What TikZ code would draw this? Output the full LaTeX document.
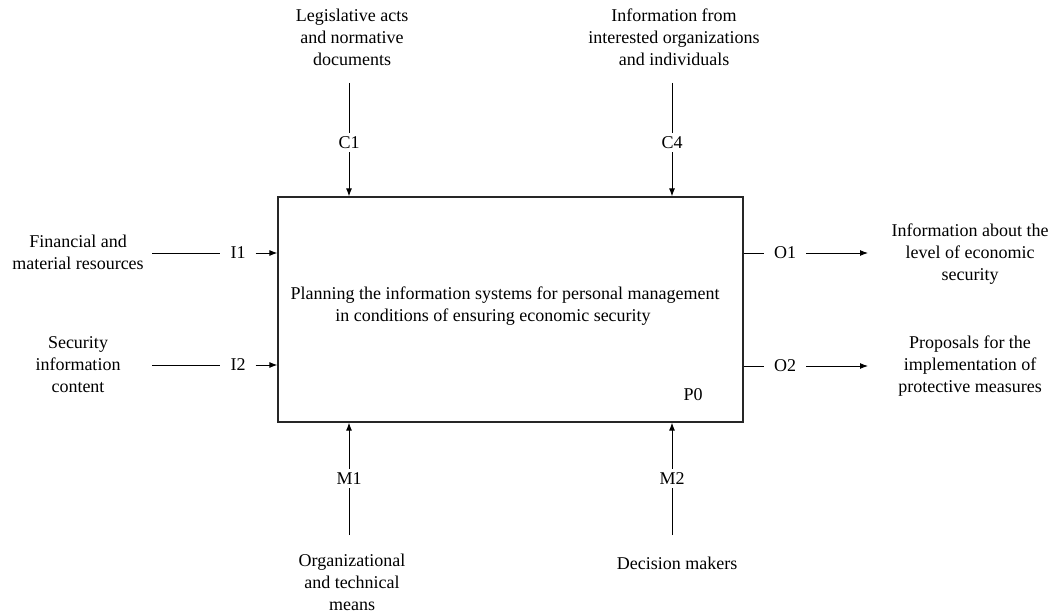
\documentclass[tikz,border=0pt]{standalone}
\usepackage{fontspec}
\setmainfont{Liberation Serif}
\usetikzlibrary{arrows.meta}
\begin{document}
\begin{tikzpicture}[x=1pt,y=-1pt,
  txt/.style={align=center,inner sep=0pt,font=\fontsize{18}{22}\selectfont},
  lab/.style={inner xsep=10pt,inner ysep=3.5pt,text depth=0pt,font=\fontsize{18}{22}\selectfont},
  conn/.style={line width=1pt},
  arr/.style={line width=1pt,-{Latex[length=8pt,width=6pt]}},
  boxstyle/.style={draw=black!85,line width=1.2pt,minimum width=465pt,minimum height=225pt,inner sep=0pt}]
\useasboundingbox (0,0) rectangle (1054,615);
% main box
\node[boxstyle] (box) at (510.5,309.5) {};
\node[txt] (title) at (505,306.5) {Planning the information systems for personal management\\in conditions of ensuring economic security\hspace*{24pt}};
\node[txt] (p0) at (693,395) {P0};
% texts
\node[txt] (legis) at (352,37.5) {Legislative acts\\and normative\\documents};
\node[txt] (infofrom) at (674,37.5) {Information from\\interested organizations\\and individuals};
\node[txt] (fin) at (78,252.5) {Financial and\\material resources};
\node[txt] (sec) at (78,365) {Security\\information\\content};
\node[txt] (infoabout) at (970,254) {Information about the\\level of economic\\security};
\node[txt] (prop) at (970,366) {Proposals for the\\implementation of\\protective measures};
\node[txt] (org) at (352,582.5) {Organizational\\and technical\\means};
\node[txt] (dec) at (677,563) {Decision makers};
% labels
\node[lab] (C1) at (349,142.5) {C1};
\node[lab] (C4) at (672,142.5) {C4};
\node[lab] (M1) at (349,478.5) {M1};
\node[lab] (M2) at (672,478.5) {M2};
\node[lab] (I1) at (238,253) {I1};
\node[lab] (I2) at (238,365) {I2};
\node[lab] (O1) at (785,253) {O1};
\node[lab] (O2) at (785,366) {O2};
% free ends
\coordinate (c1s) at (349,83);
\coordinate (c4s) at (672,83);
\coordinate (m1s) at (349,535);
\coordinate (m2s) at (672,535);
\coordinate (i1s) at (152,253);
\coordinate (i2s) at (152,365);
\coordinate (o1e) at (868,253);
\coordinate (o2e) at (868,366);
% connectors
\draw[conn] (c1s) -- (C1);
\draw[arr] (C1) -- (C1 |- box.north);
\draw[conn] (c4s) -- (C4);
\draw[arr] (C4) -- (C4 |- box.north);
\draw[conn] (m1s) -- (M1);
\draw[arr] (M1) -- (M1 |- box.south);
\draw[conn] (m2s) -- (M2);
\draw[arr] (M2) -- (M2 |- box.south);
\draw[conn] (i1s) -- (I1);
\draw[arr] (I1) -- (I1 -| box.west);
\draw[conn] (i2s) -- (I2);
\draw[arr] (I2) -- (I2 -| box.west);
\draw[conn] (O1 -| box.east) -- (O1);
\draw[arr] (O1) -- (o1e);
\draw[conn] (O2 -| box.east) -- (O2);
\draw[arr] (O2) -- (o2e);
\end{tikzpicture}
\end{document}
